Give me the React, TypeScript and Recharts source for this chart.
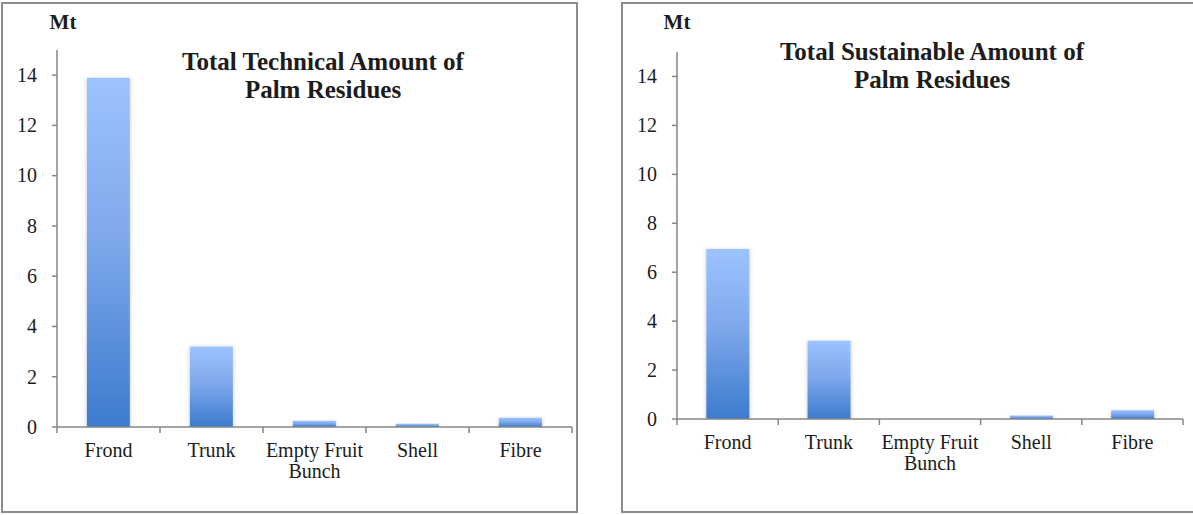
import React from 'react';
import { BarChart, Bar, XAxis, YAxis } from 'recharts';

// Palm residue categories and amounts (Mt)
const categories = ['Frond', 'Trunk', 'Empty Fruit Bunch', 'Shell', 'Fibre'];
const technicalMt = [13.9, 3.2, 0.25, 0.13, 0.37];
const sustainableMt = [6.95, 3.2, 0, 0.14, 0.36];
const yTicks = [0, 2, 4, 6, 8, 10, 12, 14];
const yMax = 15;

const technicalTitle = ['Total Technical Amount of', 'Palm Residues'];
const sustainableTitle = ['Total Sustainable Amount of', 'Palm Residues'];
const unitLabel = 'Mt';

const FONT = "'Liberation Serif', 'Times New Roman', serif";
const AXIS = '#868686';
const TEXT = '#1c1c1c';

const toRows = (values: number[]) => categories.map((name, i) => ({ name, value: values[i] }));

// Splits a category name into lines that fit inside one category band
function wrapWords(label: string, maxChars: number): string[] {
  const words = label.split(' ');
  const lines: string[] = [];
  let cur = '';
  for (const w of words) {
    const next = cur ? cur + ' ' + w : w;
    if (next.length > maxChars && cur) {
      lines.push(cur);
      cur = w;
    } else {
      cur = next;
    }
  }
  if (cur) lines.push(cur);
  return lines;
}

function makeCategoryTick(bandWidth: number, count: number) {
  return function CategoryTick(props: any) {
    const { x, y, payload, index } = props;
    const lines = wrapWords(String(payload.value), 12);
    const left = x - bandWidth / 2;
    const right = x + bandWidth / 2;
    return (
      <g>
        <line x1={left} y1={y} x2={left} y2={y + 6} stroke={AXIS} strokeWidth={1.5} />
        {index === count - 1 && (
          <line x1={right} y1={y} x2={right} y2={y + 6} stroke={AXIS} strokeWidth={1.5} />
        )}
        <text
          x={x}
          y={y + 30}
          textAnchor="middle"
          style={{ fontFamily: FONT, fontSize: 20, fill: TEXT }}
        >
          {lines.map((ln, i) => (
            <tspan key={i} x={x} dy={i === 0 ? 0 : 21}>
              {ln}
            </tspan>
          ))}
        </text>
      </g>
    );
  };
}

function ValueTick(props: any) {
  const { x, y, payload } = props;
  return (
    <text
      x={x}
      y={y}
      dy="0.34em"
      textAnchor="end"
      style={{ fontFamily: FONT, fontSize: 20, fill: TEXT }}
    >
      {payload.value}
    </text>
  );
}

type PanelProps = {
  id: string;
  values: number[];
  title: string[];
  left: number;
  width: number;
  top: number;
  bottom: number;
  right: number;
  titleX: number;
  titleY: number;
  unitX: number;
};

const Y_AXIS_WIDTH = 57;

function Panel(p: PanelProps) {
  const height = 515;
  const plotWidth = p.width - Y_AXIS_WIDTH - p.right;
  const bandWidth = plotWidth / categories.length;
  const Tick = makeCategoryTick(bandWidth, categories.length);
  return (
    <div style={{ position: 'absolute', left: p.left, top: 0, width: p.width, height }}>
      <BarChart
        width={p.width}
        height={height}
        data={toRows(p.values)}
        margin={{ top: p.top, right: p.right, bottom: p.bottom, left: 0 }}
        barCategoryGap="29%"
      >
        <defs>
          <linearGradient id={`${p.id}-fill`} x1="0" y1="0" x2="0" y2="1">
            <stop offset="0%" stopColor="#9DC3FF" />
            <stop offset="45%" stopColor="#7FA9EC" />
            <stop offset="100%" stopColor="#3C7BCD" />
          </linearGradient>
          <filter id={`${p.id}-shadow`} x="-30%" y="-10%" width="160%" height="130%">
            <feDropShadow dx="0" dy="1" stdDeviation="2.2" floodColor="#000" floodOpacity="0.22" />
          </filter>
        </defs>
        <XAxis
          dataKey="name"
          axisLine={{ stroke: AXIS, strokeWidth: 1.5 }}
          tickLine={false}
          tickSize={0}
          tickMargin={0}
          height={40}
          interval={0}
          tick={<Tick />}
        />
        <YAxis
          type="number"
          domain={[0, yMax]}
          ticks={yTicks}
          width={Y_AXIS_WIDTH}
          axisLine={{ stroke: AXIS, strokeWidth: 1.5 }}
          tickLine={{ stroke: AXIS, strokeWidth: 1.5 }}
          tickSize={5}
          tickMargin={15}
          tick={<ValueTick />}
          allowDataOverflow
        />
        <Bar
          dataKey="value"
          fill={`url(#${p.id}-fill)`}
          filter={`url(#${p.id}-shadow)`}
          isAnimationActive={false}
        />
      </BarChart>
      <div
        style={{
          position: 'absolute',
          left: p.unitX - 40,
          top: 9,
          width: 80,
          textAlign: 'center',
          fontFamily: FONT,
          fontWeight: 'bold',
          fontSize: 21,
          lineHeight: '26px',
          color: TEXT,
        }}
      >
        {unitLabel}
      </div>
      <div
        style={{
          position: 'absolute',
          left: p.titleX - 220,
          top: p.titleY - 14,
          width: 440,
          textAlign: 'center',
          fontFamily: FONT,
          fontWeight: 'bold',
          fontSize: 25,
          lineHeight: '28px',
          color: TEXT,
        }}
      >
        {p.title.map((t, i) => (
          <div key={i}>{t}</div>
        ))}
      </div>
    </div>
  );
}

export default function App() {
  const frame: React.CSSProperties = {
    position: 'absolute',
    top: 2,
    height: 511,
    border: '2px solid #8c8c8c',
    boxSizing: 'border-box',
  };
  return (
    <div
      style={{
        position: 'absolute',
        left: 0,
        top: 0,
        width: 1193,
        height: 515,
        overflow: 'hidden',
        background: '#fff',
      }}
    >
      <div style={{ ...frame, left: 1, width: 577 }} />
      <div style={{ ...frame, left: 621, width: 600 }} />
      <Panel
        id="technical"
        values={technicalMt}
        title={technicalTitle}
        left={0}
        width={580}
        top={50}
        bottom={48}
        right={8}
        titleX={323}
        titleY={62}
        unitX={63}
      />
      <Panel
        id="sustainable"
        values={sustainableMt}
        title={sustainableTitle}
        left={620}
        width={573}
        top={52}
        bottom={56}
        right={10}
        titleX={312}
        titleY={52}
        unitX={57}
      />
    </div>
  );
}
